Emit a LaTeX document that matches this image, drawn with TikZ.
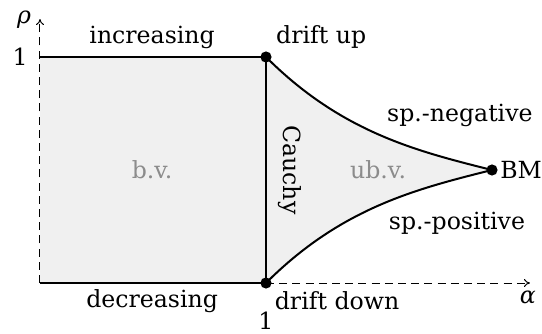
\documentclass[tikz,border=0pt]{standalone}
\usepackage{fontspec}
\setmainfont{DejaVu Serif}
\usetikzlibrary{arrows.meta}
\begin{document}
\begin{tikzpicture}[x=113pt,y=113pt,
  every node/.style={font=\fontsize{11.8}{14}\selectfont},
  dot/.style={circle,fill=black,inner sep=0pt,minimum size=5.6pt},
  region/.style={fill=black!6},
  bound/.style={line width=1pt},
  axis/.style={line width=0.5pt,dash pattern=on 4pt off 2.6pt,-{To[length=3pt,width=4pt]}},
  faint/.style={text=black!45}]
\useasboundingbox (-0.17699,-0.22124) rectangle (2.22124,1.25221);
\coordinate (O) at (0,0);
\coordinate (T) at (0,1);
\coordinate (du) at (1,1);
\coordinate (dd) at (1,0);
\coordinate (bm) at (2,0.5);
\coordinate (ytip) at (0,1.168);
\coordinate (xtip) at (2.168,0);
% shaded regions
\fill[region] (O) rectangle (du);
\fill[region] (du) .. controls (1.3333,0.6667) and (1.6667,0.5833) .. (bm)
  .. controls (1.6667,0.4167) and (1.3333,0.3333) .. (dd) -- cycle;
% axes
\draw[axis] (O) -- (ytip);
\draw[axis] (dd) -- (xtip);
% boundaries
\draw[bound] (T) -- (du);
\draw[bound] (O) -- (dd);
\draw[bound] (dd) -- (du);
\draw[bound] (du) .. controls (1.3333,0.6667) and (1.6667,0.5833) .. (bm);
\draw[bound] (dd) .. controls (1.3333,0.3333) and (1.6667,0.4167) .. (bm);
% dots
\node[dot] (ndu) at (du) {};
\node[dot] (ndd) at (dd) {};
\node[dot] (nbm) at (bm) {};
% labels
\node (rho) at (-0.071,1.164) {\textit{ρ}};
\node (alpha) at (2.159,-0.062) {\textit{α}};
\node (one-y) at (-0.088,1) {1};
\node (one-x) at (1,-0.168) {1};
\node (inc) at (0.496,1.088) {increasing};
\node (dec) at (0.496,-0.08) {decreasing};
\node[anchor=west] (lup) at (1.014,1.09) {drift up};
\node[anchor=west] (ldown) at (1.008,-0.08) {drift down};
\node[anchor=west,inner sep=1pt] (lbm) at (nbm.east) {BM};
\node (sneg) at (1.858,0.743) {sp.-negative};
\node (spos) at (1.845,0.265) {sp.-positive};
\node[faint] (bv) at (0.496,0.5) {b.v.};
\node[faint] (ubv) at (1.496,0.5) {ub.v.};
\node[rotate=-90] (cauchy) at (1.106,0.5) {Cauchy};
\end{tikzpicture}
\end{document}
